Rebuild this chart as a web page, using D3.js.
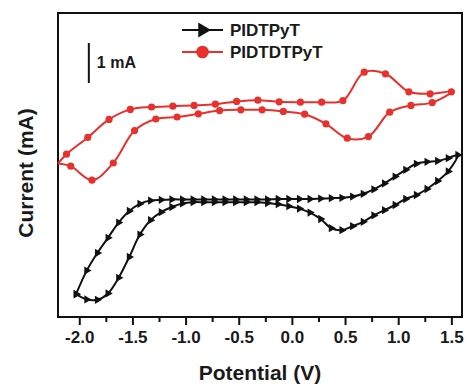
<!DOCTYPE html>
<html>
<head>
<meta charset="utf-8">
<script src="https://cdn.jsdelivr.net/npm/d3@7"></script>
<style>
  html, body { margin: 0; padding: 0; background: #fff; }
  svg text { font-family: "Liberation Sans", Arial, sans-serif; font-weight: bold; fill: #1a1a1a; }
</style>
</head>
<body>
<div id="chart"></div>
<script>
// ---- data (potential in V, current in mA) ----
const seriesNames = ["PIDTPyT", "PIDTDTPyT"];
const xTicks = [-2.0, -1.5, -1.0, -0.5, 0.0, 0.5, 1.0, 1.5];
const xTickLabels = ["-2.0", "-1.5", "-1.0", "-0.5", "0.0", "0.5", "1.0", "1.5"];

const redFwdV = [-2.2, -2.12, -1.92, -1.72, -1.52, -1.32, -1.12, -0.92, -0.72, -0.52, -0.32, -0.12, 0.08, 0.28, 0.48, 0.68, 0.88, 1.1, 1.3, 1.5];
const redFwdI = [-0.56, -0.33, 0.09, 0.54, 0.79, 0.85, 0.87, 0.89, 0.92, 0.99, 1.02, 0.98, 0.97, 0.97, 1.01, 1.72, 1.68, 1.23, 1.18, 1.23];
const redRevV = [1.32, 1.12, 0.92, 0.72, 0.52, 0.32, 0.12, -0.08, -0.28, -0.48, -0.68, -0.88, -1.08, -1.28, -1.48, -1.68, -1.88, -2.08, -2.2];
const redRevI = [0.96, 0.89, 0.72, 0.11, 0.07, 0.43, 0.67, 0.74, 0.78, 0.78, 0.76, 0.68, 0.60, 0.55, 0.26, -0.55, -0.98, -0.63, -0.56];

const blackFwdV = [-2.03, -1.93, -1.83, -1.73, -1.63, -1.53, -1.43, -1.33, -1.23, -1.13, -1.03, -0.93, -0.83, -0.73, -0.63, -0.53, -0.43, -0.33, -0.23, -0.13, -0.03, 0.07, 0.17, 0.27, 0.37, 0.47, 0.57, 0.67, 0.77, 0.87, 0.97, 1.07, 1.17, 1.27, 1.37, 1.47, 1.56];
const blackFwdI = [-3.83, -3.24, -2.80, -2.42, -2.04, -1.75, -1.57, -1.49, -1.47, -1.46, -1.46, -1.46, -1.46, -1.46, -1.46, -1.46, -1.46, -1.46, -1.46, -1.45, -1.45, -1.45, -1.45, -1.44, -1.43, -1.42, -1.39, -1.32, -1.21, -1.06, -0.89, -0.72, -0.57, -0.52, -0.50, -0.43, -0.35];
const blackRevV = [1.47, 1.37, 1.27, 1.17, 1.07, 0.97, 0.87, 0.77, 0.67, 0.57, 0.47, 0.37, 0.27, 0.17, 0.07, -0.03, -0.13, -0.23, -0.33, -0.43, -0.53, -0.63, -0.73, -0.83, -0.93, -1.03, -1.13, -1.23, -1.33, -1.43, -1.53, -1.63, -1.73, -1.83, -1.93, -2.03];
const blackRevI = [-0.76, -1.0, -1.2, -1.35, -1.45, -1.6, -1.73, -1.86, -2.02, -2.13, -2.23, -2.18, -1.95, -1.79, -1.69, -1.63, -1.58, -1.55, -1.53, -1.53, -1.53, -1.53, -1.53, -1.53, -1.53, -1.56, -1.65, -1.78, -1.98, -2.34, -2.90, -3.42, -3.81, -3.97, -3.96, -3.83];

const scaleBarV = -1.91;
const scaleBarI = [1.45, 2.45];
const scaleBarLabel = "1 mA";

// ---- layout ----
const W = 467, H = 386;
const margin = { top: 13, right: 5, bottom: 69, left: 58 };
const red = "#e8312d", black = "#111";

const svg = d3.select("#chart").append("svg").attr("width", W).attr("height", H);

const x = d3.scaleLinear().domain([-2.2, 1.6]).range([margin.left, W - margin.right]);
const y = d3.scaleLinear().domain([-4.4, 3.2]).range([H - margin.bottom, margin.top]);

// x axis (major + minor ticks)
const minorTicks = d3.range(-2.0, 1.51, 0.25).filter(v => Math.abs(v * 2 - Math.round(v * 2)) > 1e-6);
svg.append("g")
  .attr("transform", `translate(0,${H - margin.bottom})`)
  .call(d3.axisBottom(x).tickValues(minorTicks).tickSize(5).tickFormat(""))
  .call(g => g.select(".domain").remove())
  .call(g => g.selectAll("line").attr("stroke", "#111").attr("stroke-width", 2));
const xAxis = svg.append("g")
  .attr("transform", `translate(0,${H - margin.bottom})`)
  .call(d3.axisBottom(x).tickValues(xTicks).tickSize(8).tickPadding(6)
    .tickFormat((d, i) => xTickLabels[i]))
  .call(g => g.select(".domain").remove());
xAxis.selectAll("line").attr("stroke", "#111").attr("stroke-width", 2);
xAxis.selectAll("text").attr("font-size", 17).style("fill", "#1a1a1a")
  .attr("font-family", "Liberation Sans, Arial, sans-serif").attr("font-weight", "bold");

// frame
svg.append("rect")
  .attr("x", margin.left).attr("y", margin.top)
  .attr("width", W - margin.left - margin.right)
  .attr("height", H - margin.top - margin.bottom)
  .attr("fill", "none").attr("stroke", "#111").attr("stroke-width", 2);

// axis titles
svg.append("text")
  .attr("x", (margin.left + W - margin.right) / 2 + 0).attr("y", 380)
  .attr("text-anchor", "middle").attr("font-size", 21)
  .text("Potential (V)");
svg.append("text")
  .attr("transform", `translate(33,${(margin.top + H - margin.bottom) / 2 + 8}) rotate(-90)`)
  .attr("text-anchor", "middle").attr("font-size", 21)
  .text("Current (mA)");

// build point arrays
const zip = (vs, is) => vs.map((v, i) => ({ v, c: is[i] }));
const redPts = zip(redFwdV, redFwdI).concat(zip(redRevV, redRevI));
const blackPts = zip(blackFwdV, blackFwdI).concat(zip(blackRevV, blackRevI));

const line = d3.line().x(d => x(d.v)).y(d => y(d.c)).curve(d3.curveCatmullRom.alpha(0.5));

const plot = svg.append("g");

// black series
plot.append("path").datum(blackPts)
  .attr("d", line).attr("fill", "none").attr("stroke", black).attr("stroke-width", 2);
const tri = d3.symbol().type(d3.symbolTriangle);
plot.append("g").selectAll("path").data(blackPts).join("path")
  .attr("d", tri.size(30)())
  .attr("transform", d => `translate(${x(d.v)},${y(d.c)}) rotate(90)`)
  .attr("fill", black);

// red series
plot.append("path").datum(redPts)
  .attr("d", line).attr("fill", "none").attr("stroke", red).attr("stroke-width", 2);
plot.append("g").selectAll("circle").data(redPts.filter(d => d.v > -2.19)).join("circle")
  .attr("cx", d => x(d.v)).attr("cy", d => y(d.c)).attr("r", 3.6)
  .attr("fill", red);

// scale bar
svg.append("line")
  .attr("x1", x(scaleBarV)).attr("x2", x(scaleBarV))
  .attr("y1", y(scaleBarI[0])).attr("y2", y(scaleBarI[1]))
  .attr("stroke", "#111").attr("stroke-width", 2);
svg.append("text")
  .attr("x", x(scaleBarV) + 8).attr("y", y((scaleBarI[0] + scaleBarI[1]) / 2) + 5)
  .attr("font-size", 16).text(scaleBarLabel);

// legend
const legend = svg.append("g");
const legX0 = 182, legX1 = 223, legTextX = 230;
const legRows = [
  { name: seriesNames[0], color: black, y: 30, type: "tri" },
  { name: seriesNames[1], color: red, y: 52, type: "circ" }
];
legRows.forEach(r => {
  legend.append("line").attr("x1", legX0).attr("x2", legX1).attr("y1", r.y).attr("y2", r.y)
    .attr("stroke", r.color).attr("stroke-width", 2);
  if (r.type === "tri") {
    legend.append("path").attr("d", d3.symbol().type(d3.symbolTriangle).size(95)())
      .attr("transform", `translate(${(legX0 + legX1) / 2},${r.y}) rotate(90)`).attr("fill", r.color);
  } else {
    legend.append("circle").attr("cx", (legX0 + legX1) / 2).attr("cy", r.y).attr("r", 6.3).attr("fill", r.color);
  }
  legend.append("text").attr("x", legTextX).attr("y", r.y + 6).attr("font-size", 17).text(r.name);
});
</script>
</body>
</html>
